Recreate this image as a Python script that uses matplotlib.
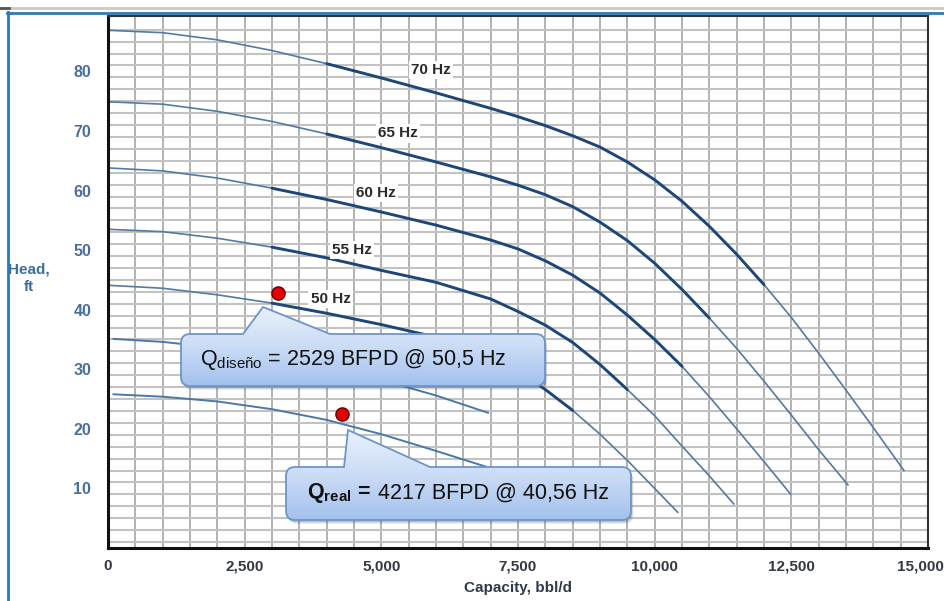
import numpy as np
import matplotlib.pyplot as plt
import matplotlib.transforms as mtransforms
from matplotlib.path import Path
from matplotlib.patches import PathPatch
from matplotlib.lines import Line2D
from matplotlib.colors import LinearSegmentedColormap

# -------------------------
# Data (capacity bbl/d, head ft)
# -------------------------
q_70 = [0, 1000, 2000, 3000, 4000, 5000, 6000, 7000, 7500, 8000, 8500, 9000, 9500,
        10000, 10500, 11000, 11500, 12000, 12500, 13000, 13500, 14000, 14560]
h_70 = [86.9, 86.5, 85.3, 83.5, 81.3, 78.9, 76.4, 73.8, 72.4, 70.9, 69.2, 67.3, 64.8,
        61.8, 58.2, 54.0, 49.3, 44.2, 38.7, 32.7, 26.5, 20.2, 13.0]

q_65 = [0, 1000, 2000, 3000, 4000, 5000, 6000, 7000, 7500, 8000, 8500, 9000, 9500,
        10000, 10500, 11000, 11500, 12000, 12500, 13000, 13535]
h_65 = [74.9, 74.5, 73.3, 71.6, 69.5, 67.2, 64.8, 62.3, 60.9, 59.3, 57.3, 54.7, 51.6,
        47.8, 43.4, 38.6, 33.5, 28.0, 22.3, 16.5, 10.6]

q_60 = [0, 1000, 2000, 3000, 4000, 5000, 6000, 7000, 7500, 8000, 8500, 9000, 9500,
        10000, 10500, 11000, 11500, 12000, 12490]
h_60 = [63.8, 63.3, 62.1, 60.4, 58.5, 56.4, 54.2, 51.7, 50.2, 48.2, 45.8, 42.8, 39.1,
        35.0, 30.5, 25.4, 20.0, 14.5, 9.0]

q_55 = [0, 1000, 2000, 3000, 4000, 5000, 6000, 7000, 7500, 8000, 8500, 9000, 9500,
        10000, 10500, 11000, 11447]
h_55 = [53.5, 53.1, 52.0, 50.5, 48.7, 46.6, 44.6, 41.8, 39.7, 37.4, 34.5, 30.8, 26.6,
        22.2, 17.1, 12.1, 7.4]

q_50 = [0, 1000, 2000, 3000, 4000, 5000, 6000, 6500, 7000, 7500, 8000, 8500, 9000,
        9500, 10000, 10421]
h_50 = [44.1, 43.6, 42.5, 41.1, 39.4, 37.5, 35.4, 34.0, 32.2, 29.7, 26.6, 23.1, 19.1,
        14.7, 10.0, 6.0]

# the two hand-drawn lower curves
q_45 = [100, 1000, 2000, 3000, 4000, 5000, 6000, 6950]
h_45 = [35.1, 34.6, 33.6, 32.2, 30.4, 28.2, 25.6, 22.7]
q_40 = [100, 1000, 2000, 3000, 4000, 5000, 6000, 7000]
h_40 = [25.8, 25.4, 24.6, 23.3, 21.5, 19.1, 16.3, 13.4]

# recommended operating range (bold part of each curve)
range_70 = (4000, 12000)
range_65 = (4000, 11000)
range_60 = (3000, 10500)
range_55 = (3000, 9500)
range_50 = (3000, 8500)

curve_labels = ["70 Hz", "65 Hz", "60 Hz", "55 Hz", "50 Hz"]
label_q = [5900, 5300, 4900, 4470, 4070]
label_h = [80.2, 69.6, 59.6, 50.0, 41.8]

# operating points
point_q = [3117, 4278]
point_h = [42.8, 22.5]

x_ticks = [0, 2500, 5000, 7500, 10000, 12500, 15000]
x_ticklabels = ["0", "2,500", "5,000", "7,500", "10,000", "12,500", "15,000"]
y_ticks = [10, 20, 30, 40, 50, 60, 70, 80]

# -------------------------
# Figure
# -------------------------
plt.rcParams["mathtext.fontset"] = "custom"
plt.rcParams["mathtext.rm"] = "Liberation Sans"
plt.rcParams["mathtext.bf"] = "Liberation Sans:bold"

lab_font = "Liberation Sans"

W, H = 945, 601
fig = plt.figure(figsize=(W / 100, H / 100), dpi=100)
ax = fig.add_axes([108 / W, 53 / H, 820 / W, 532 / H])

ax.set_xlim(0, 15000)
ax.set_ylim(0, 89.3)

# grid
ax.set_xticks(x_ticks)
ax.set_xticklabels(x_ticklabels)
ax.set_xticks(np.arange(500, 15000, 500), minor=True)
ax.set_yticks(y_ticks)
ax.set_yticks(np.arange(1, 89, 2), minor=True)
ax.grid(axis="x", which="both", color="#ababab", lw=1.3, zorder=0)
ax.grid(axis="y", which="minor", color="#c2c2c2", lw=1.5, zorder=0)
ax.set_axisbelow(True)
ax.tick_params(which="both", length=0)
ax.tick_params(axis="x", pad=8)
ax.tick_params(axis="y", pad=12)

for lab in ax.get_xticklabels():
    lab.set_family(lab_font)
    lab.set_fontweight("bold")
    lab.set_fontsize(11)
    lab.set_color("#333a42")
for lab in ax.get_yticklabels():
    lab.set_family(lab_font)
    lab.set_fontweight("bold")
    lab.set_fontsize(11.5)
    lab.set_color("#4a6f98")

# keep the last x label inside the picture
last = ax.get_xticklabels()[-1]
last.set_horizontalalignment("right")
last.set_transform(last.get_transform() +
                   mtransforms.ScaledTranslation(0.16, 0, fig.dpi_scale_trans))

for side in ["left", "bottom"]:
    ax.spines[side].set_linewidth(2.2)
    ax.spines[side].set_color("#111111")
for side in ["top", "right"]:
    ax.spines[side].set_linewidth(1.5)
    ax.spines[side].set_color("#333333")

# curves
curves = [(q_70, h_70, range_70), (q_65, h_65, range_65), (q_60, h_60, range_60),
          (q_55, h_55, range_55), (q_50, h_50, range_50)]
for q, h, (lo, hi) in curves:
    ax.plot(q, h, color="#5479a3", lw=1.2, zorder=2, solid_joinstyle="round")
    qb = [a for a in q if lo <= a <= hi]
    hb = [b for a, b in zip(q, h) if lo <= a <= hi]
    ax.plot(qb, hb, color="#1d4778", lw=2.1, zorder=3, solid_capstyle="round",
            solid_joinstyle="round")

ax.plot(q_45, h_45, color="#4a78a8", lw=1.4, zorder=2)
ax.plot(q_40, h_40, color="#4a78a8", lw=1.4, zorder=2)

for txt, lq, lh in zip(curve_labels, label_q, label_h):
    ax.text(lq, lh, txt, ha="center", va="center", fontsize=11, fontweight="bold",
            family=lab_font, color="#2a2a2a", zorder=4,
            bbox=dict(facecolor="white", edgecolor="none", pad=1.5))

ax.plot(point_q, point_h, "o", ms=9.5, color="#e30000", mec="#6a0000", mew=1.0,
        zorder=6, linestyle="none")

ax.set_xlabel("Capacity, bbl/d", fontsize=11, fontweight="bold", family=lab_font,
              color="#2f3b4a", labelpad=6)
fig.text(29 / W, 1 - 278 / H, "Head,\nft", ha="center", va="center", fontsize=11,
         fontweight="bold", family=lab_font, color="#3d6d9e", linespacing=1.3)

# -------------------------
# Overlay in pixel units: frame lines and callouts
# -------------------------
ov = fig.add_axes([0, 0, 1, 1], zorder=5)
ov.set_xlim(0, W)
ov.set_ylim(H, 0)
ov.axis("off")
ov.patch.set_alpha(0)

ov.add_line(Line2D([0, W], [8, 8], color="#c9c9c9", lw=2))
ov.add_line(Line2D([0, 9], [8, 8], color="#555555", lw=2))
ov.add_line(Line2D([7, W], [12.5, 12.5], color="#2d7ab6", lw=2))
ov.add_line(Line2D([7.5, 7.5], [12, H], color="#2d7ab6", lw=2))

grad = LinearSegmentedColormap.from_list("callout", ["#e9f1fc", "#cbdcf6", "#a3c1ed"])


def callout(x0, y0, x1, y1, tail_l, tip, tail_r, r=9):
    verts = [(x0 + r, y0), (tail_l, y0), tip, (tail_r, y0), (x1 - r, y0),
             (x1, y0), (x1, y0 + r), (x1, y1 - r), (x1, y1), (x1 - r, y1),
             (x0 + r, y1), (x0, y1), (x0, y1 - r), (x0, y0 + r), (x0, y0), (x0 + r, y0)]
    codes = [Path.MOVETO, Path.LINETO, Path.LINETO, Path.LINETO, Path.LINETO,
             Path.CURVE3, Path.CURVE3, Path.LINETO, Path.CURVE3, Path.CURVE3,
             Path.LINETO, Path.CURVE3, Path.CURVE3, Path.LINETO, Path.CURVE3, Path.CURVE3]
    # soft shadow
    for k, a in [(4, 0.10), (3, 0.14), (2, 0.18)]:
        sv = [(vx + k * 0.6, vy + k) for vx, vy in verts]
        ov.add_patch(PathPatch(Path(sv, codes), facecolor="#555555", edgecolor="none",
                               alpha=a, zorder=1))
    patch = PathPatch(Path(verts, codes), facecolor="none", edgecolor="#6c95cc",
                      lw=1.3, zorder=3)
    ov.add_patch(patch)
    g = np.linspace(0, 1, 200).reshape(-1, 1)
    im = ov.imshow(g, cmap=grad, extent=(x0, x1, y1, tip[1]), origin="upper",
                   aspect="auto", zorder=2)
    im.set_clip_path(patch)


callout(181, 334, 545, 386, 243, (263, 307), 330)
callout(286, 467, 631, 520, 344, (348, 430), 430)

ov.text(200, 360, r"$\mathrm{Q_{diseño}}$ = 2529 BFPD @ 50,5 Hz", fontsize=15.5,
        family="Liberation Sans", color="#111111", ha="left", va="center", zorder=4)
ov.text(307, 493, r"$\mathbf{Q_{real}}$ =", fontsize=15.5, fontweight="bold",
        family="Liberation Sans", color="#111111", ha="left", va="center", zorder=4)
ov.text(378, 493, "4217 BFPD @ 40,56 Hz", fontsize=15.5,
        family="Liberation Sans", color="#111111", ha="left", va="center", zorder=4)

fig.savefig("out.png", dpi=100)
